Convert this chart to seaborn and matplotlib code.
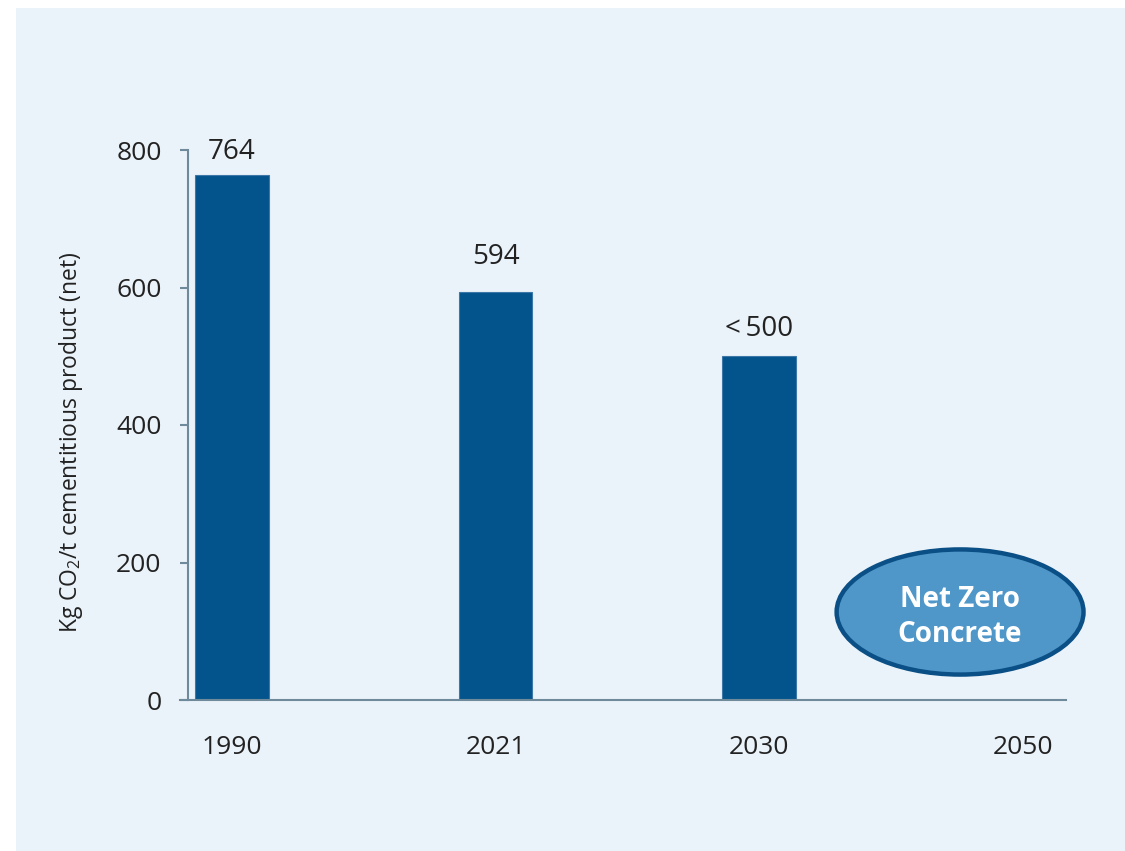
import numpy as np
import pandas as pd
import matplotlib
matplotlib.use("Agg")
import matplotlib.pyplot as plt
from matplotlib.patches import Ellipse, Rectangle
import seaborn as sns

years = ["1990", "2021", "2030", "2050"]
emissions = [764, 594, 500, 0]
value_labels = ["764", "594", "<\u2009500", ""]
y_ticks = [0, 200, 400, 600, 800]
badge_text = "Net Zero\nConcrete"

# baseline of each value label above its bar, px (uneven in the original)
label_gaps = [16, 28, 20, 0]

panel_bg = "#EBF3FA"
bar_color = "#03548C"
spine_color = "#6F8A9B"

sns.set_theme(style="white")
plt.rcParams["font.family"] = ["Open Sans", "DejaVu Sans"]
plt.rcParams["mathtext.fontset"] = "custom"
plt.rcParams["mathtext.rm"] = "Open Sans"

fig = plt.figure(figsize=(11.25, 8.51), dpi=100, facecolor="white")
# light blue panel behind everything
panel = Rectangle((16 / 1125, 0), 1 - 16 / 1125, 1 - 8 / 851,
                  transform=fig.transFigure, facecolor=panel_bg,
                  edgecolor="none", zorder=-10)
fig.add_artist(panel)

ax = fig.add_axes([188 / 1125, 151 / 851, (1066 - 188) / 1125, 550 / 851])
ax.set_facecolor("none")

df = pd.DataFrame({"year": years, "value": emissions})
sns.barplot(data=df, x="year", y="value", order=years, color=bar_color,
            width=0.28, saturation=1, edgecolor="#3D77A8", linewidth=0.8, ax=ax)

for i, (v, lab, gap) in enumerate(zip(emissions, value_labels, label_gaps)):
    if lab:
        ax.annotate(lab, (i, v), xytext=(0, gap * 0.72), textcoords="offset points",
                    ha="center", va="baseline", fontsize=20, color="#222222")

ax.set_xlim(-0.167, 3.165)
ax.set_ylim(0, 800)
ax.set_yticks(y_ticks)
ax.tick_params(axis="y", direction="out", length=6, width=1.5, color=spine_color,
               pad=13, labelsize=19, labelcolor="#222222", left=True)
ax.tick_params(axis="x", length=0, pad=25, labelsize=19, labelcolor="#222222")

ax.set_xlabel("")
ax.set_ylabel("Kg CO$_2$/t cementitious product (net)", fontsize=16.5,
              color="#222222")
ax.yaxis.set_label_coords(-0.117, 0.468)

sns.despine(ax=ax)
for s in ["left", "bottom"]:
    ax.spines[s].set_color(spine_color)
    ax.spines[s].set_linewidth(1.5)
ax.spines["bottom"].set_bounds(-0.197, 3.165)

# net zero badge over the 2050 slot
badge = Ellipse((2.763, 128), 0.937, 182, facecolor="#4F97C9",
                edgecolor="#0A4F85", linewidth=3.2, zorder=5, clip_on=False)
ax.add_patch(badge)
ax.text(2.763, 121, badge_text, ha="center", va="center", fontsize=20,
        fontweight="bold", color="white", linespacing=1.25, zorder=6)

fig.savefig("out.png", dpi=100, facecolor="white")
